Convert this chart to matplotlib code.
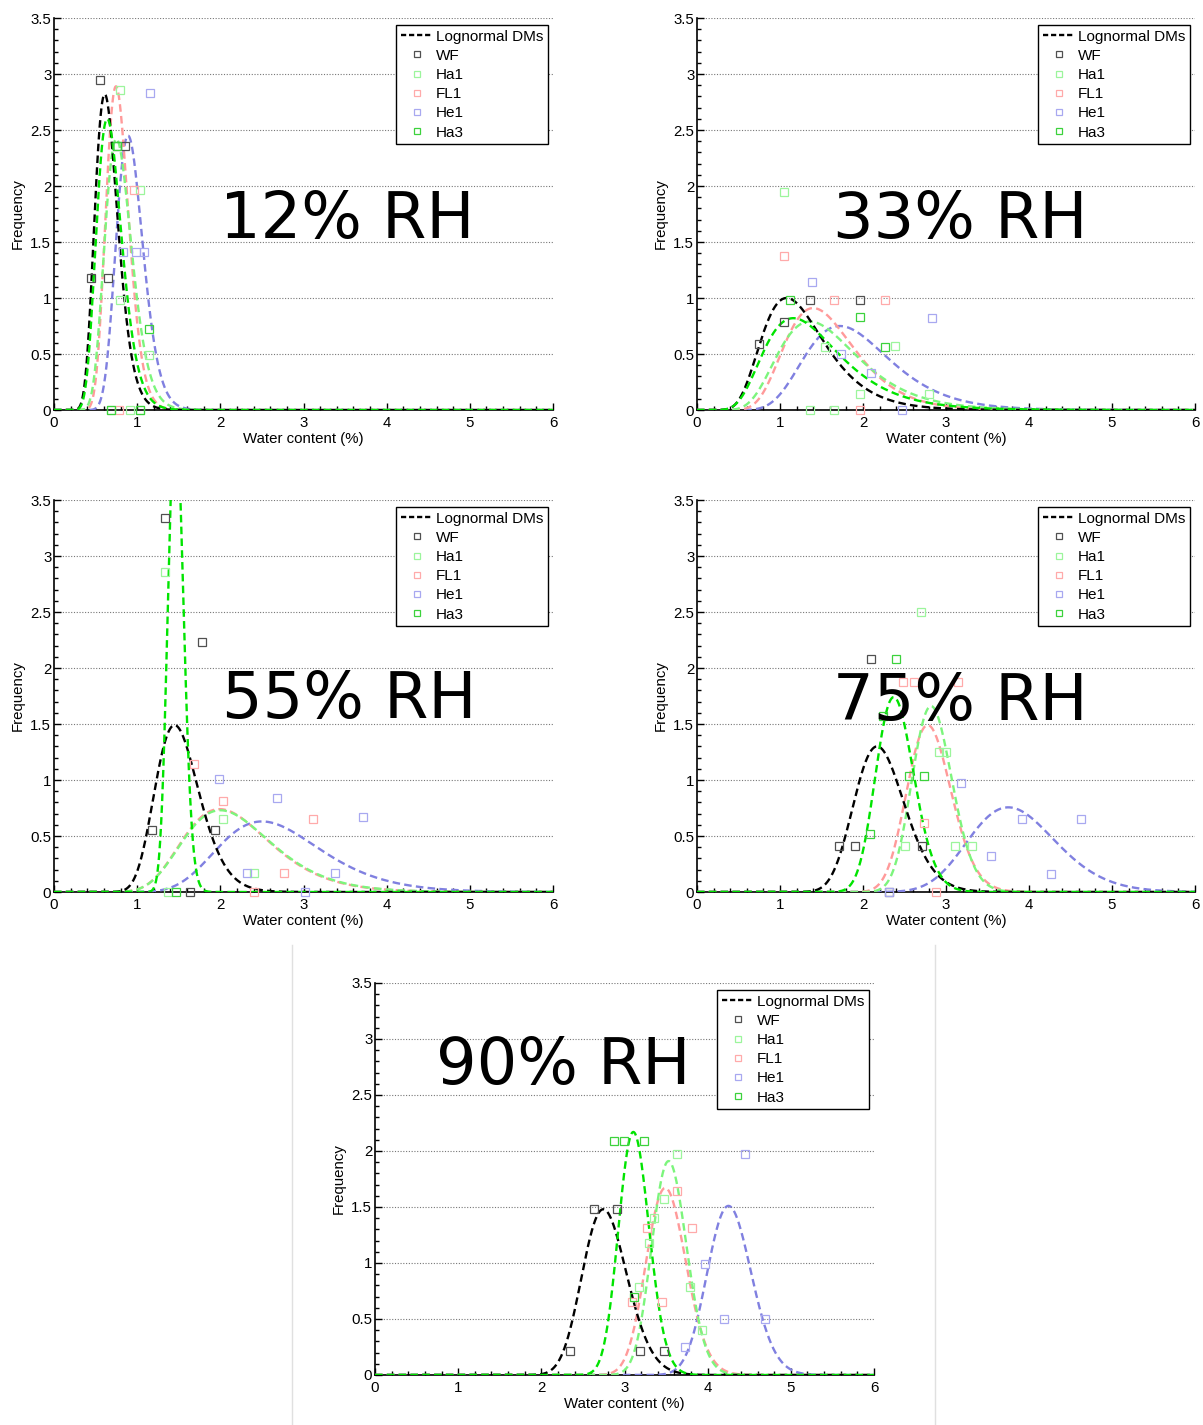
import numpy as np
import matplotlib
matplotlib.use("Agg")
import matplotlib.pyplot as plt
from matplotlib.lines import Line2D
from matplotlib.ticker import MultipleLocator, FuncFormatter

# ---------------- data ----------------
rh_labels = ['12% RH', '33% RH', '55% RH', '75% RH', '90% RH']
series = ['WF', 'Ha1', 'FL1', 'He1', 'Ha3']

# lognormal DM curves: mode (water content, %) and peak frequency, per RH panel
mode_WF = [0.61, 1.08, 1.45, 2.17, 2.745]
peak_WF = [2.82, 1.00, 1.49, 1.30, 1.48]
mode_Ha1 = [0.75, 1.36, 2.00, 2.82, 3.53]
peak_Ha1 = [2.42, 0.79, 0.73, 1.66, 1.91]
mode_FL1 = [0.745, 1.40, 1.99, 2.78, 3.49]
peak_FL1 = [2.89, 0.91, 0.74, 1.49, 1.67]
mode_He1 = [0.89, 1.72, 2.50, 3.75, 4.25]
peak_He1 = [2.45, 0.75, 0.63, 0.756, 1.51]
mode_Ha3 = [0.64, 1.16, 1.46, 2.37, 3.106]
peak_Ha3 = [2.60, 0.82, 4.30, 1.74, 2.17]

# measured histogram points per RH panel
WF_x = [[0.55, 0.45, 0.65, 0.76, 0.85], [0.75, 1.05, 1.36, 1.96],
        [1.18, 1.33, 1.63, 1.78, 1.93], [1.71, 1.90, 2.10, 2.31, 2.71],
        [2.35, 2.63, 2.91, 3.19, 3.47]]
WF_y = [[2.95, 1.18, 1.18, 2.36, 2.36], [0.59, 0.79, 0.98, 0.98],
        [0.55, 3.34, 0.0, 2.23, 0.55], [0.41, 0.41, 2.08, 0.0, 0.41],
        [0.21, 1.48, 1.48, 0.21, 0.21]]
Ha1_x = [[0.68, 0.79, 0.79, 0.91, 1.03, 1.03, 1.14], [1.05, 1.36, 1.54, 1.65, 1.96, 2.38, 2.80],
         [1.33, 1.37, 2.03, 2.40], [2.51, 2.70, 2.92, 3.00, 3.11, 3.31],
         [3.18, 3.30, 3.36, 3.48, 3.63, 3.79, 3.93]]
Ha1_y = [[0.0, 2.86, 0.98, 0.0, 1.96, 0.0, 0.49], [1.95, 0.0, 0.565, 0.0, 0.143, 0.57, 0.143],
         [2.86, 0.0, 0.65, 0.167], [0.41, 2.50, 1.25, 1.25, 0.41, 0.41],
         [0.79, 1.18, 1.40, 1.575, 1.97, 0.79, 0.40]]
FL1_x = [[0.78, 0.96], [1.05, 1.65, 1.96, 2.26], [1.68, 2.03, 2.40, 2.76, 3.12],
         [2.48, 2.62, 2.74, 2.88, 3.14], [3.09, 3.27, 3.455, 3.63, 3.815]]
FL1_y = [[0.0, 1.96], [1.375, 0.98, 0.0, 0.98], [1.14, 0.815, 0.0, 0.167, 0.65],
         [1.875, 1.875, 0.62, 0.0, 1.875], [0.655, 1.315, 0.655, 1.645, 1.315]]
He1_x = [[0.83, 0.99, 1.08, 1.16], [1.38, 1.74, 2.10, 2.47, 2.83],
         [1.98, 2.32, 2.68, 3.02, 3.38, 3.72], [2.31, 3.18, 3.54, 3.91, 4.27, 4.63],
         [3.73, 3.97, 4.20, 4.45, 4.69]]
He1_y = [[1.41, 1.41, 1.41, 2.83], [1.145, 0.497, 0.33, 0.0, 0.82],
         [1.01, 0.167, 0.835, 0.0, 0.167, 0.67], [0.0, 0.976, 0.32, 0.65, 0.163, 0.65],
         [0.25, 0.99, 0.497, 1.97, 0.497]]
Ha3_x = [[0.76, 1.14, 0.68, 1.03], [1.12, 1.96, 2.26], [1.47],
         [2.09, 2.24, 2.40, 2.56, 2.73], [2.87, 2.99, 3.11, 3.23]]
Ha3_y = [[2.36, 0.72, 0.0, 0.0], [0.98, 0.83, 0.56], [0.0],
         [0.52, 1.57, 2.08, 1.04, 1.04], [2.09, 2.09, 0.70, 2.09]]

x_ticks = [0, 1, 2, 3, 4, 5, 6]
y_ticks = [0, 0.5, 1, 1.5, 2, 2.5, 3, 3.5]

# ---------------- styles ----------------
line_colors = {'WF': '#000000', 'Ha1': '#7cf57c', 'FL1': '#ff9a9a', 'He1': '#8080e0', 'Ha3': '#00e400'}
mark_colors = {'WF': '#505050', 'Ha1': '#9cf59c', 'FL1': '#ffaaaa', 'He1': '#a8a8f0', 'Ha3': '#3cd23c'}

modes = {'WF': mode_WF, 'Ha1': mode_Ha1, 'FL1': mode_FL1, 'He1': mode_He1, 'Ha3': mode_Ha3}
peaks = {'WF': peak_WF, 'Ha1': peak_Ha1, 'FL1': peak_FL1, 'He1': peak_He1, 'Ha3': peak_Ha3}
pts_x = {'WF': WF_x, 'Ha1': Ha1_x, 'FL1': FL1_x, 'He1': He1_x, 'Ha3': Ha3_x}
pts_y = {'WF': WF_y, 'Ha1': Ha1_y, 'FL1': FL1_y, 'He1': He1_y, 'Ha3': Ha3_y}


def lognormal_from_mode_peak(m, h):
    target = 1.0 / (m * h * np.sqrt(2 * np.pi))
    lo, hi = 1e-5, 5.0
    for _ in range(200):
        mid = 0.5 * (lo + hi)
        if mid * np.exp(mid ** 2 / 2) < target:
            lo = mid
        else:
            hi = mid
    s = 0.5 * (lo + hi)
    mu = np.log(m) + s ** 2
    return mu, s


def lognormal_pdf(x, mu, s):
    y = np.zeros_like(x)
    pos = x > 0
    xp = x[pos]
    y[pos] = np.exp(-(np.log(xp) - mu) ** 2 / (2 * s ** 2)) / (xp * s * np.sqrt(2 * np.pi))
    return y


W, H = 1203, 1425
fig = plt.figure(figsize=(W / 100, H / 100), dpi=100)
plt.rcParams['font.family'] = ['Liberation Sans', 'DejaVu Sans']

# pixel boxes: left, top, right, bottom
boxes = [(54, 18, 553, 410), (697, 18, 1195, 410),
         (54, 500, 553, 892), (697, 500, 1195, 892),
         (375, 983, 874, 1375)]
text_pos = [(3.52, 1.70), (3.17, 1.70), (3.55, 1.71), (3.17, 1.70), (2.26, 2.76)]

xs = np.linspace(0, 6, 2000)
draw_order = ['He1', 'FL1', 'Ha1', 'WF', 'Ha3']

for i, (l, t, r, b) in enumerate(boxes):
    ax = fig.add_axes([l / W, 1 - b / H, (r - l) / W, (b - t) / H])
    for s in draw_order:
        mu, sg = lognormal_from_mode_peak(modes[s][i], peaks[s][i])
        ax.plot(xs, lognormal_pdf(xs, mu, sg), linestyle=(0, (3.2, 1.8)),
                color=line_colors[s], lw=1.7, zorder=3 if s != 'Ha3' else 4)
    for s in series:
        ax.plot(pts_x[s][i], pts_y[s][i], linestyle='none', marker='s', ms=5.2,
                mfc='none', mec=mark_colors[s], mew=0.9, zorder=5, clip_on=False)
    ax.set_xlim(0, 6)
    ax.set_ylim(0, 3.5)
    ax.set_xticks(x_ticks)
    ax.set_yticks(y_ticks)
    ax.yaxis.set_major_formatter(FuncFormatter(lambda v, p: ('%g' % v)))
    ax.xaxis.set_minor_locator(MultipleLocator(0.2))
    ax.yaxis.set_minor_locator(MultipleLocator(0.1))
    ax.tick_params(which='both', direction='in', labelsize=10.8, width=1.0)
    ax.tick_params(which='major', length=5)
    ax.tick_params(which='minor', length=3)
    ax.tick_params(axis='x', pad=4)
    ax.tick_params(axis='y', pad=2)
    for sp in ['top', 'right']:
        ax.spines[sp].set_visible(False)
    for sp in ['left', 'bottom']:
        ax.spines[sp].set_linewidth(1.2)
    ax.yaxis.grid(True, linestyle=(0, (1, 1.5)), color='#777777', lw=0.8)
    ax.set_axisbelow(True)
    ax.set_xlabel('Water content (%)', fontsize=10.8, labelpad=2)
    ax.set_ylabel('Frequency', fontsize=10.8, labelpad=4)
    ax.text(text_pos[i][0], text_pos[i][1], rh_labels[i], fontsize=46,
            family='DejaVu Sans', ha='center', va='center', zorder=6)

    handles = [Line2D([], [], color='black', linestyle=(0, (2.2, 1.2)), lw=1.7)]
    for s in series:
        handles.append(Line2D([], [], linestyle='none', marker='s', ms=4.5, mfc='none',
                              mec=mark_colors[s], mew=0.9))
    leg = ax.legend(handles, ['Lognormal DMs'] + series, loc='upper right',
                    bbox_to_anchor=(0.99, 0.982), fontsize=11, frameon=True,
                    fancybox=False, edgecolor='black', framealpha=1,
                    borderpad=0.3, labelspacing=0.34, handlelength=2.1,
                    handletextpad=0.2, borderaxespad=0.0)
    leg.get_frame().set_linewidth(1.0)
    leg.set_zorder(7)

# light separators around the bottom panel
for xp in (292, 935):
    fig.add_artist(Line2D([xp / W, xp / W], [0, 1 - 945 / H], color='#e0e0e0', lw=1))

fig.savefig('out.png', dpi=100)
